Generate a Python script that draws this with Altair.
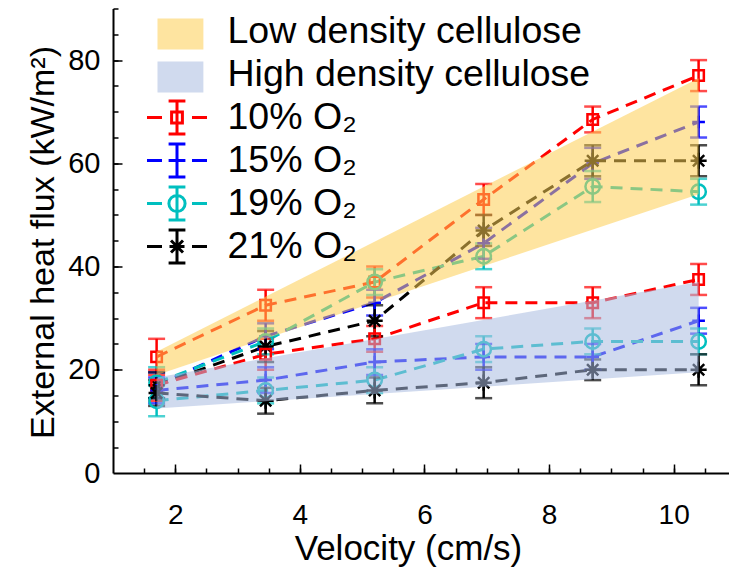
import altair as alt
import pandas as pd

# ---------------- data ----------------
velocity = [1.7, 3.45, 5.2, 6.95, 8.7, 10.4]
series_names = ["10% O₂", "15% O₂", "19% O₂", "21% O₂"]
series_colors = ["#FF0000", "#0000FF", "#00BFBF", "#000000"]

# low density cellulose
low_10 = [22.5, 32.5, 37.0, 53.0, 68.5, 77.0]
low_15 = [17.0, 26.5, 33.0, 44.5, 60.0, 68.0]
low_19 = [17.5, 25.5, 37.0, 42.0, 55.5, 54.5]
low_21 = [17.0, 24.5, 29.5, 47.0, 60.5, 60.5]
err_low_10 = [3.5, 3.0, 3.0, 3.0, 2.5, 3.0]
err_low_15 = [2.5, 2.5, 2.5, 3.0, 3.0, 3.0]
err_low_19 = [3.0, 2.5, 2.5, 2.5, 3.0, 2.5]
err_low_21 = [2.5, 3.0, 3.0, 3.0, 3.0, 3.0]

# high density cellulose
high_10 = [17.0, 23.0, 26.0, 33.0, 33.0, 37.5]
high_15 = [16.0, 18.0, 21.5, 22.5, 22.5, 29.5]
high_19 = [14.0, 16.0, 18.0, 24.0, 25.5, 25.5]
high_21 = [15.5, 14.0, 16.0, 17.5, 20.0, 20.0]
err_high_10 = [3.0, 3.0, 2.5, 3.0, 3.0, 3.0]
err_high_15 = [2.5, 2.5, 2.5, 2.5, 2.5, 2.5]
err_high_19 = [3.0, 2.5, 2.5, 2.5, 2.5, 2.5]
err_high_21 = [2.5, 2.5, 2.5, 3.0, 2.0, 3.0]

# shaded bands
band_names = ["Low density cellulose", "High density cellulose"]
band_x = [1.7, 10.4]
low_band_lower = [19.0, 54.0]
low_band_upper = [23.5, 76.5]
high_band_lower = [12.5, 19.5]
high_band_upper = [18.5, 37.0]

# axis ticks
x_label_ticks = [2, 4, 6, 8, 10]
x_minor_ticks = [1.5, 2.0, 2.5, 3.0, 3.5, 4.0, 4.5, 5.0, 5.5, 6.0, 6.5, 7.0,
                 7.5, 8.0, 8.5, 9.0, 9.5, 10.0, 10.5]
y_label_ticks = [0, 20, 40, 60, 80]
y_minor_ticks = [5, 10, 15, 20, 25, 30, 35, 40, 45, 50, 55, 60, 65, 70, 75, 80, 85, 90]
y_major_ticks = [20, 40, 60, 80]

# ---------------- styling ----------------
FONT = "Liberation Sans"
W = 615.5
H = 464.5
band_colors = ["#FDCE52", "#AABCE0"]
band_swatch = ["#FEE4A0", "#D0DAEE"]

marker_shapes = [
    "square",
    "M-1,0H1M0,-1V1",
    "circle",
    "M0,-1V1M-1,0H1M-0.7,-0.7L0.7,0.7M-0.7,0.7L0.7,-0.7",
]
marker_sizes = [110, 260, 200, 150]

dash = "M-1.667,0H-0.833M0.833,0H1.667"
ebar = "M0,-0.917V0.917M-0.467,-0.917H0.467M-0.467,0.917H0.467"
swatch = "M-1.0,-0.64H1.383V0.92H-1.0Z"
legend_paths = [
    swatch,
    swatch,
    dash + ebar + "M-0.3,-0.3H0.3V0.3H-0.3Z",
    dash + ebar + "M-0.467,0H0.467",
    dash + ebar + "M0.45,0A0.45,0.45,0,1,1,-0.45,0A0.45,0.45,0,1,1,0.45,0",
    dash + ebar + "M-0.333,-0.333L0.333,0.333M-0.333,0.333L0.333,-0.333M-0.417,0H0.417",
]
legend_entries = band_names + series_names
legend_strokes = band_swatch + series_colors
legend_fills = band_swatch + ["transparent"] * 4

# ---------------- tables ----------------
groups = [
    ("low", [low_10, low_15, low_19, low_21], [err_low_10, err_low_15, err_low_19, err_low_21]),
    ("high", [high_10, high_15, high_19, high_21], [err_high_10, err_high_15, err_high_19, err_high_21]),
]
recs = []
for g, vals, errs in groups:
    for name, v, e in zip(series_names, vals, errs):
        for x, yv, ev in zip(velocity, v, e):
            recs.append({"x": x, "y": yv, "lo": yv - ev, "hi": yv + ev,
                         "series": name, "key": g + name})
df = pd.DataFrame(recs)
caps_df = pd.concat([df.assign(yc=df["lo"]), df.assign(yc=df["hi"])], ignore_index=True)

band_recs = []
for name, lower, upper in [(band_names[0], low_band_lower, low_band_upper),
                           (band_names[1], high_band_lower, high_band_upper)]:
    for x, lo, up in zip(band_x, lower, upper):
        band_recs.append({"x": x, "lower": lo, "upper": up, "band": name})
band_df = pd.DataFrame(band_recs)
leg_df = pd.DataFrame({"entry": legend_entries})

# ---------------- scales / axes ----------------
xs = alt.Scale(domain=[1.0, 10.88], nice=False, zero=False)
ys = alt.Scale(domain=[0, 90], nice=False, zero=False)
cs = alt.Scale(domain=series_names, range=series_colors)

x_label_axis = alt.Axis(orient="bottom", values=x_label_ticks, ticks=False, tickSize=0,
                        labelPadding=28, labelFontSize=28, domain=True, domainWidth=2,
                        domainColor="black", grid=False, title="Velocity (cm/s)",
                        titleFontSize=35, titleX=295, titleY=86,
                        titleBaseline="alphabetic", titleAlign="center")
y_label_axis = alt.Axis(orient="left", values=y_label_ticks, ticks=False, tickSize=0,
                        labelPadding=13, labelFontSize=29, domain=True, domainWidth=2,
                        domainColor="black", grid=False,
                        title="External heat flux (kW/m²)", titleFontSize=34,
                        titleX=-60, titleY=233.5, titleAngle=270,
                        titleBaseline="alphabetic", titleAlign="center")
x_minor_axis = alt.Axis(orient="top", offset=-H, values=x_minor_ticks, labels=False,
                        domain=False, ticks=True, tickSize=5, tickWidth=1.5,
                        tickColor="black", grid=False, title=None)
x_major_axis = alt.Axis(orient="top", offset=-H, values=x_label_ticks, labels=False,
                        domain=False, ticks=True, tickSize=9, tickWidth=1.5,
                        tickColor="black", grid=False, title=None)
y_minor_axis = alt.Axis(orient="right", offset=-W, values=y_minor_ticks, labels=False,
                        domain=False, ticks=True, tickSize=5, tickWidth=1.5,
                        tickColor="black", grid=False, title=None)
y_major_axis = alt.Axis(orient="right", offset=-W, values=y_major_ticks, labels=False,
                        domain=False, ticks=True, tickSize=9, tickWidth=1.5,
                        tickColor="black", grid=False, title=None)

# ---------------- layers ----------------
lines = alt.Chart(df).mark_line(strokeDash=[12, 8], strokeWidth=3).encode(
    x=alt.X("x:Q", scale=xs, axis=x_label_axis),
    y=alt.Y("y:Q", scale=ys, axis=y_label_axis),
    color=alt.Color("series:N", scale=cs, legend=None),
    detail="key:N",
)

rules = alt.Chart(df).mark_rule(strokeWidth=2.5).encode(
    x=alt.X("x:Q", scale=xs, axis=x_minor_axis),
    y=alt.Y("lo:Q", scale=ys, axis=y_minor_axis),
    y2="hi:Q",
    color=alt.Color("series:N", scale=cs, legend=None),
)

caps = alt.Chart(caps_df).mark_tick(orient="horizontal", size=17, thickness=2.5).encode(
    x=alt.X("x:Q", scale=xs, axis=x_major_axis),
    y=alt.Y("yc:Q", scale=ys, axis=y_major_axis),
    color=alt.Color("series:N", scale=cs, legend=None),
)

points = alt.Chart(df).mark_point(filled=False, strokeWidth=2.5, opacity=1).encode(
    x=alt.X("x:Q", scale=xs, axis=None),
    y=alt.Y("y:Q", scale=ys, axis=None),
    color=alt.Color("series:N", scale=cs, legend=None),
    shape=alt.Shape("series:N", scale=alt.Scale(domain=series_names, range=marker_shapes), legend=None),
    size=alt.Size("series:O", scale=alt.Scale(domain=series_names, range=marker_sizes), legend=None),
)

bands = alt.Chart(band_df).mark_area(opacity=0.55).encode(
    x=alt.X("x:Q", scale=xs, axis=None),
    y=alt.Y("lower:Q", scale=ys, axis=None, stack=None),
    y2="upper:Q",
    color=alt.Color("band:N", scale=alt.Scale(domain=band_names, range=band_colors), legend=None),
    detail="band:N",
)

leg = alt.Legend(orient="none", legendX=44.5, legendY=3.5, title=None,
                 labelFont=FONT, labelFontSize=37.5, labelColor="black", labelLimit=0,
                 symbolSize=1296, symbolStrokeWidth=3, rowPadding=-5, labelOffset=31,
                 padding=0, symbolOpacity=1, gridAlign="all")

legend_layer = alt.Chart(leg_df).mark_point(filled=False, opacity=1).encode(
    shape=alt.Shape("entry:N", scale=alt.Scale(domain=legend_entries, range=legend_paths), legend=leg),
    stroke=alt.Stroke("entry:N", scale=alt.Scale(domain=legend_entries, range=legend_strokes), legend=leg),
    fill=alt.Fill("entry:N", scale=alt.Scale(domain=legend_entries, range=legend_fills), legend=leg),
).transform_filter("false")

chart = alt.layer(lines, rules, caps, points, bands, legend_layer).resolve_scale(
    color="independent", shape="independent", size="independent",
    fill="independent", stroke="independent",
).resolve_axis(
    x="independent", y="independent"
).properties(
    width=W, height=H,
    padding={"left": 113, "top": 8.5, "right": 0, "bottom": 97},
    autosize=alt.AutoSizeParams(type="none"),
    background="white",
).configure_view(stroke=None).configure_axis(
    labelFont=FONT, titleFont=FONT, labelColor="black", titleColor="black",
    titleFontWeight="normal",
)

chart.save("out.html", embed_options={"renderer": "svg", "actions": False})
